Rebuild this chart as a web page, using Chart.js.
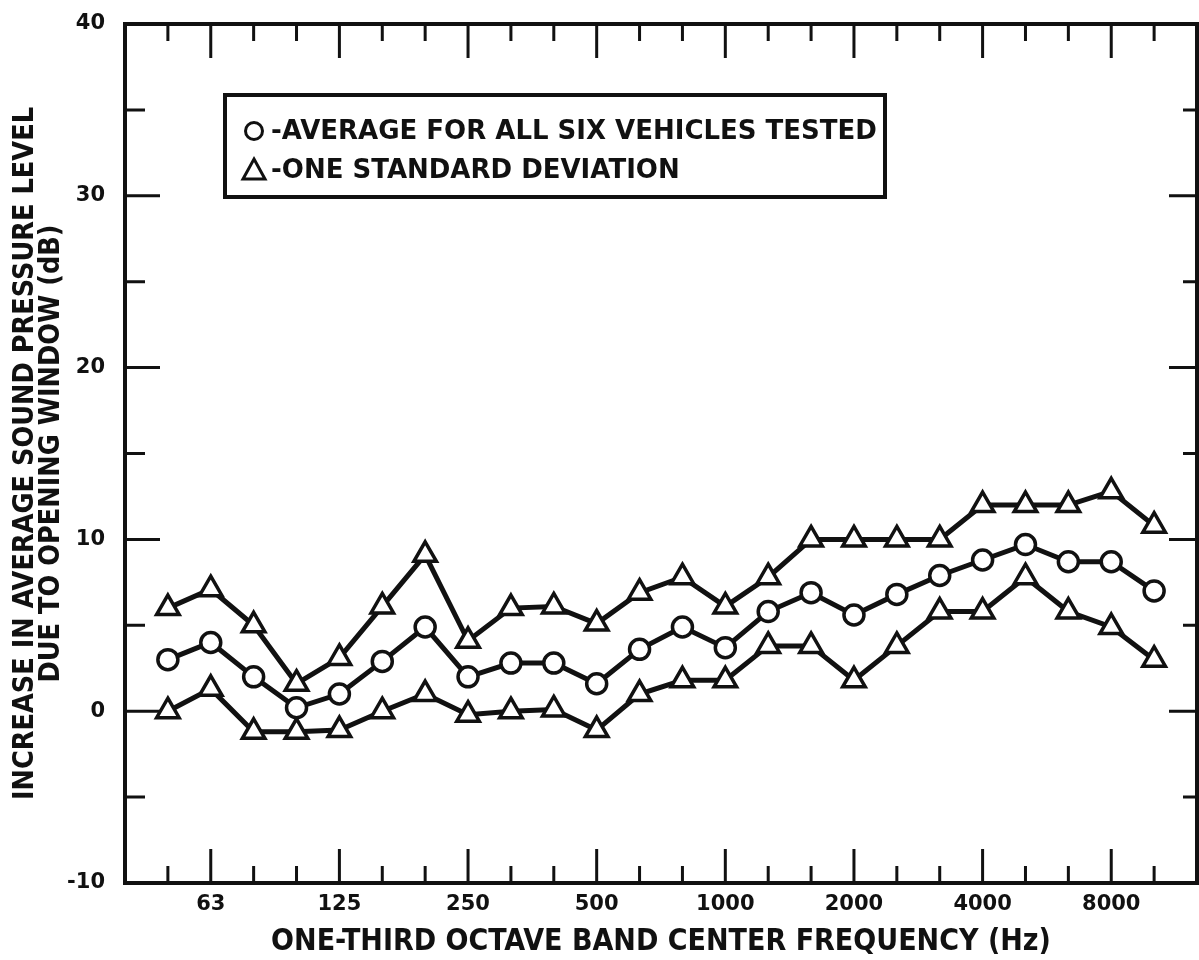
<!DOCTYPE html>
<html>
<head>
<meta charset="utf-8">
<script src="https://cdn.jsdelivr.net/npm/chart.js@4"></script>
<style>
  html, body { margin: 0; padding: 0; background: #fff; overflow: hidden; }
  #wrap { width: 1199px; height: 960px; }
  canvas { display: block; }
</style>
</head>
<body>
<div id="wrap"><canvas id="chart" width="1199" height="960"></canvas></div>
<script>
// one-third octave band centres, 50 Hz .. 10 kHz
const bands = ['50', '63', '80', '100', '125', '160', '200', '250', '315', '400', '500', '630',
  '800', '1000', '1250', '1600', '2000', '2500', '3150', '4000', '5000', '6300', '8000', '10000'];
const labelledBands = ['63', '125', '250', '500', '1000', '2000', '4000', '8000'];

// increase in SPL with window open (dB)
const average = [3, 4, 2, 0.2, 1, 2.9, 4.9, 2, 2.8, 2.8, 1.6, 3.6,
  4.9, 3.7, 5.8, 6.9, 5.6, 6.8, 7.9, 8.8, 9.7, 8.7, 8.7, 7];
const upperSD = [6, 7.1, 5, 1.6, 3.1, 6.1, 9.1, 4.1, 6, 6.1, 5.1, 6.9,
  7.8, 6.1, 7.8, 10, 10, 10, 10, 12, 12, 12, 12.8, 10.8];
const lowerSD = [0, 1.3, -1.2, -1.2, -1.1, 0, 1, -0.2, 0, 0.1, -1.1, 1,
  1.8, 1.8, 3.8, 3.8, 1.8, 3.8, 5.8, 5.8, 7.8, 5.8, 4.9, 3];

const legendItems = ['-AVERAGE FOR ALL SIX VEHICLES TESTED', '-ONE STANDARD DEVIATION'];

const FONT = '"DejaVu Sans", sans-serif';
const FONT_NARROW = '"DejaVu Sans Condensed", "DejaVu Sans", sans-serif';
const toPoints = arr => arr.map((y, i) => ({ x: i, y: y }));

const lineStyle = {
  borderColor: '#111',
  borderWidth: 5,
  pointBackgroundColor: '#fff',
  pointBorderColor: '#111',
  pointBorderWidth: 3.5,
  tension: 0,
};

// inward tick marks on all four sides, plus the frame
const frameTicks = {
  id: 'frameTicks',
  afterDatasetsDraw(chart) {
    const { ctx, chartArea: a, scales: { x, y } } = chart;
    ctx.save();
    ctx.strokeStyle = '#111';
    ctx.lineWidth = 3;
    bands.forEach((b, i) => {
      const px = x.getPixelForValue(i);
      const major = labelledBands.includes(b);
      const len = major ? 34 : 17;
      ctx.beginPath();
      ctx.moveTo(px, a.bottom); ctx.lineTo(px, a.bottom - len);
      ctx.moveTo(px, a.top); ctx.lineTo(px, a.top + len);
      ctx.stroke();
    });
    for (let v = -5; v < 40; v += 5) {
      const py = y.getPixelForValue(v);
      const major = v % 10 === 0;
      ctx.beginPath();
      ctx.moveTo(a.left, py); ctx.lineTo(a.left + (major ? 35 : 20), py);
      ctx.moveTo(a.right, py); ctx.lineTo(a.right - (major ? 28 : 14), py);
      ctx.stroke();
    }
    ctx.lineWidth = 4;
    ctx.strokeRect(a.left, a.top, a.right - a.left, a.bottom - a.top);
    ctx.restore();
  }
};

// boxed key in the upper left of the plot
const keyBox = {
  id: 'keyBox',
  afterDraw(chart) {
    const { ctx } = chart;
    const bx = 225, by = 95, bw = 660, bh = 102;
    ctx.save();
    ctx.fillStyle = '#fff';
    ctx.fillRect(bx, by, bw, bh);
    ctx.strokeStyle = '#111';
    ctx.lineWidth = 4;
    ctx.strokeRect(bx, by, bw, bh);

    ctx.lineWidth = 3;
    ctx.beginPath();
    ctx.arc(bx + 29, by + 36, 8.5, 0, Math.PI * 2);
    ctx.stroke();
    ctx.beginPath();
    ctx.moveTo(bx + 29, by + 64);
    ctx.lineTo(bx + 40, by + 84);
    ctx.lineTo(bx + 18, by + 84);
    ctx.closePath();
    ctx.stroke();

    ctx.fillStyle = '#111';
    ctx.font = 'bold 26px ' + FONT;
    ctx.textBaseline = 'middle';
    ctx.fillText(legendItems[0], bx + 46, by + 37);
    ctx.fillText(legendItems[1], bx + 46, by + 76);
    ctx.restore();
  }
};

new Chart(document.getElementById('chart'), {
  type: 'line',
  data: {
    datasets: [
      { label: 'Upper SD', data: toPoints(upperSD), pointStyle: 'triangle', pointRadius: 13, ...lineStyle },
      { label: 'Average', data: toPoints(average), pointStyle: 'circle', pointRadius: 10, ...lineStyle },
      { label: 'Lower SD', data: toPoints(lowerSD), pointStyle: 'triangle', pointRadius: 13, ...lineStyle },
    ]
  },
  options: {
    responsive: false,
    animation: false,
    layout: { autoPadding: false, padding: { top: 24, right: 2, left: 0, bottom: 0 } },
    plugins: { legend: { display: false }, tooltip: { enabled: false } },
    scales: {
      x: {
        type: 'linear',
        min: -1,
        max: 24,
        afterBuildTicks: s => {
          s.ticks = labelledBands.map(b => ({ value: bands.indexOf(b) }));
        },
        afterFit: s => {
          s.height = 77;
          s.paddingLeft = 0;
          s.paddingRight = 0;
        },
        ticks: {
          autoSkip: false,
          maxRotation: 0,
          padding: 9,
          color: '#111',
          font: { family: FONT, size: 21, weight: 'bold' },
          callback: v => bands[v],
        },
        grid: { display: false, drawTicks: false },
        border: { display: false },
        title: {
          display: true,
          text: 'ONE-THIRD OCTAVE BAND CENTER FREQUENCY (Hz)',
          color: '#111',
          font: { family: FONT_NARROW, size: 30, weight: 'bold' },
          padding: { top: 0, bottom: 0 },
        },
      },
      y: {
        min: -10,
        max: 40,
        afterFit: s => {
          s.width = 125;
          s.paddingTop = 0;
          s.paddingBottom = 0;
        },
        ticks: {
          stepSize: 10,
          padding: 20,
          color: '#111',
          font: { family: FONT, size: 21, weight: 'bold' },
        },
        grid: { display: false, drawTicks: false },
        border: { display: false },
        title: {
          display: true,
          text: ['INCREASE IN AVERAGE SOUND PRESSURE LEVEL', 'DUE TO OPENING WINDOW (dB)'],
          color: '#111',
          font: { family: FONT_NARROW, size: 28.5, weight: 'bold', lineHeight: 0.92 },
          padding: { top: 12, bottom: 0 },
        },
      },
    },
  },
  plugins: [frameTicks, keyBox],
});
</script>
</body>
</html>
